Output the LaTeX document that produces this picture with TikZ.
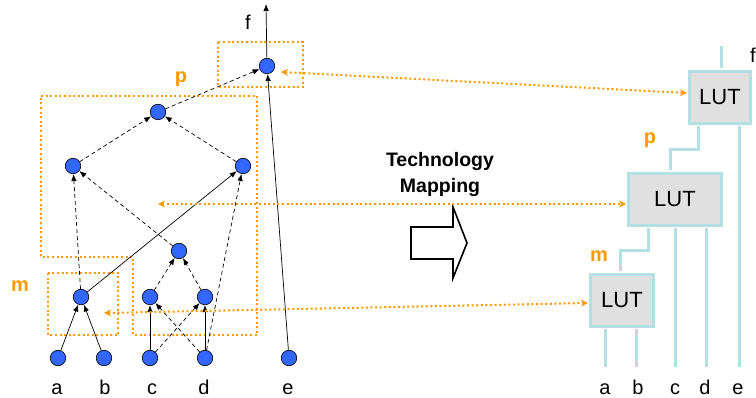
\documentclass[tikz,border=0pt]{standalone}
\usepackage{fontspec}
\setmainfont{Liberation Sans}
\usetikzlibrary{arrows.meta}
\definecolor{nodeblue}{RGB}{51,102,255}
\definecolor{mapor}{RGB}{255,153,0}
\definecolor{wirecyan}{RGB}{180,224,228}
\definecolor{lutgray}{RGB}{224,224,224}
\tikzset{
  gate/.style={circle,draw=black,line width=0.6pt,fill=nodeblue,minimum size=15.5pt,inner sep=0pt},
  solidedge/.style={line width=0.7pt,-{Latex[length=7pt,width=5.5pt]}},
  dashedge/.style={line width=0.7pt,dash pattern=on 4pt off 3pt,-{Latex[length=7pt,width=5.5pt]}},
  orbox/.style={draw=mapor,line width=2pt,dash pattern=on 2pt off 2.6pt},
  orarrow/.style={draw=mapor,line width=2pt,dash pattern=on 2pt off 2.6pt,
    {Stealth[length=7pt,width=7pt,fill=mapor]}-{Stealth[length=7pt,width=7pt,fill=mapor]}},
  lut/.style={draw=wirecyan,line width=3pt,fill=lutgray,minimum height=52pt,inner sep=0pt,font=\fontsize{22}{26}\selectfont},
  wire/.style={draw=wirecyan,line width=3pt},
  lbl/.style={font=\fontsize{20}{24}\selectfont,anchor=base,inner sep=0pt},
  orlbl/.style={font=\fontsize{20}{24}\selectfont\bfseries,text=mapor,anchor=base,inner sep=0pt},
  titletxt/.style={font=\fontsize{19.5}{24}\selectfont\bfseries,anchor=base,inner sep=0pt}
}
\begin{document}
\begin{tikzpicture}[x=1pt,y=-1pt]
\useasboundingbox (0,0) rectangle (756,398);
% orange mapping boxes
\draw[orbox] (218,42) rectangle (303,87);
\draw[orbox] (41,96) -- (257,96) -- (257,335) -- (133,335) -- (133,257) -- (41,257) -- cycle;
\draw[orbox] (48,273) rectangle (118,335);
\node[orlbl] (plab) at (181,83) {p};
\node[orlbl] (mlab) at (20,292) {m};
% gates
\node[gate] (top) at (267,66) {};
\node[gate] (p) at (158,112) {};
\node[gate] (lm) at (73,166) {};
\node[gate] (rm) at (243,166) {};
\node[gate] (x) at (179,251) {};
\node[gate] (m) at (81,297) {};
\node[gate] (cu) at (150,297) {};
\node[gate] (du) at (205,297) {};
\node[gate] (a) at (58,358) {};
\node[gate] (b) at (104,358) {};
\node[gate] (c) at (150,358) {};
\node[gate] (d) at (205,358) {};
\node[gate] (e) at (289,358) {};
\coordinate (fout) at (266,4);
% edges
\draw[solidedge] (a) -- (m);
\draw[solidedge] (b) -- (m);
\draw[solidedge] (c) -- (cu);
\draw[solidedge] (d) -- (du);
\draw[solidedge] (m) -- (rm);
\draw[solidedge] (e) -- (top);
\draw[solidedge] (top) -- (fout);
\draw[dashedge] (c) -- (du);
\draw[dashedge] (d) -- (cu);
\draw[dashedge] (cu) -- (x);
\draw[dashedge] (du) -- (x);
\draw[dashedge] (x) -- (lm);
\draw[dashedge] (m) -- (lm);
\draw[dashedge] (d) -- (rm);
\draw[dashedge] (lm) -- (p);
\draw[dashedge] (rm) -- (p);
\draw[dashedge] (p) -- (top);
% labels left
\node[lbl] (fl) at (248,30) {f};
\node[lbl] (la) at (57,394.5) {a};
\node[lbl] (lb) at (105,394.5) {b};
\node[lbl] (lc) at (152,394.5) {c};
\node[lbl] (ld) at (204,394.5) {d};
\node[lbl] (le) at (288,394.5) {e};
% title and block arrow
\node[titletxt] (t1) at (440,167) {Technology};
\node[titletxt] (t2) at (440,193) {Mapping};
\draw[line width=1.6pt,fill=white,line join=miter] (411,227) -- (453,227) -- (453,207) -- (467,243) -- (453,278) -- (453,259) -- (411,259) -- cycle;
% LUTs
\node[lut,minimum width=61pt] (lut3) at (720,97.5) {LUT};
\node[lut,minimum width=93pt] (lut2) at (675,199.5) {LUT};
\node[lut,minimum width=63pt] (lut1) at (622,300.5) {LUT};
% wires
\coordinate (wf) at (721,46);
\draw[wire] (wf) -- (721,68.5);
\draw[wire] (739,126.5) -- (739,367);
\draw[wire] (698,126.5) -- (698,150) -- (670,150) -- (670,170.5);
\draw[wire] (675,228.5) -- (675,367);
\draw[wire] (706,228.5) -- (706,367);
\draw[wire] (648,228.5) -- (648,251) -- (620,251) -- (620,271.5);
\draw[wire] (605,329.5) -- (605,367);
\draw[wire] (636,329.5) -- (636,367);
% labels right
\node[lbl,anchor=base west] (rf) at (750,63) {f};
\node[orlbl] (rp) at (650,144) {p};
\node[orlbl] (rm2) at (599,262) {m};
\node[lbl] (ra) at (605,394.5) {a};
\node[lbl] (rb) at (638,394.5) {b};
\node[lbl] (rc) at (675,394.5) {c};
\node[lbl] (rd) at (705,394.5) {d};
\node[lbl] (re) at (738,394.5) {e};
% orange correspondence arrows
\coordinate (o1a) at (281,72);
\coordinate (o1b) at (687,93);
\coordinate (o2a) at (158,204);
\coordinate (o2b) at (626,204);
\coordinate (o3a) at (104,313);
\coordinate (o3b) at (588,303);
\draw[orarrow] (o1a) -- (o1b);
\draw[orarrow] (o2a) -- (o2b);
\draw[orarrow] (o3a) -- (o3b);
\end{tikzpicture}
\end{document}
